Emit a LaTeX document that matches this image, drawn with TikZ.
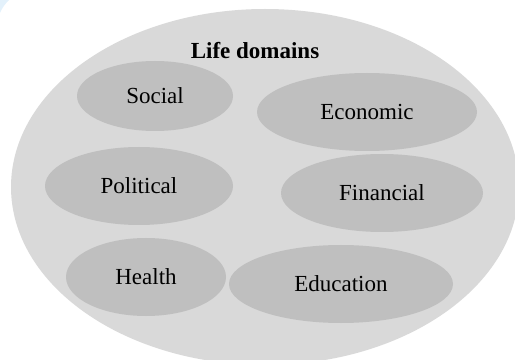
\documentclass[tikz,border=0pt]{standalone}
\usepackage{fontspec}
\setmainfont{Liberation Serif}
\usetikzlibrary{shapes.geometric}
\definecolor{outerfill}{HTML}{D9D9D9}
\definecolor{innerfill}{HTML}{BFBFBF}
\definecolor{cornerblue}{HTML}{E3F1FB}
\begin{document}
\begin{tikzpicture}[x=0.75pt,y=-0.75pt,
  domainbox/.style={ellipse,fill=innerfill,inner sep=0pt,font=\fontsize{17.25}{20}\selectfont},
  bigarea/.style={ellipse,fill=outerfill,inner sep=0pt,minimum width=381pt,minimum height=267pt}]
\useasboundingbox (0,0) rectangle (515,360);
\fill[cornerblue] (0,0) -- (9,0) .. controls (5,4) and (2,8) .. (0,13) -- cycle;
\node[bigarea] (outer) at (265,187) {};
\node[anchor=base,font=\bfseries\fontsize{17.25}{20}\selectfont] (title) at (255,59) {Life domains};
\node[domainbox,minimum width=117pt,minimum height=52.5pt] (social) at (155,96) {Social};
\node[domainbox,minimum width=165pt,minimum height=58.5pt] (economic) at (367,112) {Economic};
\node[domainbox,minimum width=141pt,minimum height=58.5pt] (political) at (139,186) {Political};
\node[domainbox,minimum width=151.5pt,minimum height=58.5pt] (financial) at (382,193) {Financial};
\node[domainbox,minimum width=120pt,minimum height=58.5pt] (health) at (146,277) {Health};
\node[domainbox,minimum width=168pt,minimum height=58.5pt] (education) at (341,284) {Education};
\end{tikzpicture}
\end{document}
